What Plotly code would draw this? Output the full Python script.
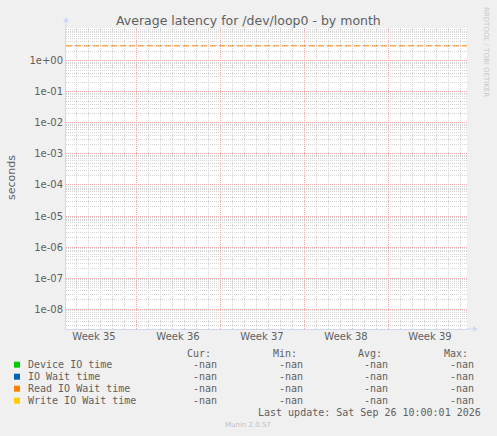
import plotly.graph_objects as go

# ---- data ----
title = "Average latency for /dev/loop0 - by month"
y_label = "seconds"
x_start = "2026-08-25 04:00"
x_end = "2026-09-27 14:00"
week_starts = ["2026-08-31", "2026-09-07", "2026-09-14", "2026-09-21"]
week_label_pos = ["2026-08-27 12:00", "2026-09-03 12:00", "2026-09-10 12:00",
                  "2026-09-17 12:00", "2026-09-24 12:00"]
week_labels = ["Week 35", "Week 36", "Week 37", "Week 38", "Week 39"]
y_tick_vals = [1e-8, 1e-7, 1e-6, 1e-5, 1e-4, 1e-3, 1e-2, 1e-1, 1e0]
y_tick_text = ["1e-08", "1e-07", "1e-06", "1e-05", "1e-04", "1e-03", "1e-02", "1e-01", "1e+00"]
y_range_log = [-8.634, 1.052]
warning_value = 3.0
series_names = ["Device IO time", "IO Wait time", "Read IO Wait time", "Write IO Wait time"]
series_colors = ["#00CC00", "#0066B3", "#FF8000", "#FFCC00"]
cur_vals = ["-nan", "-nan", "-nan", "-nan"]
min_vals = ["-nan", "-nan", "-nan", "-nan"]
avg_vals = ["-nan", "-nan", "-nan", "-nan"]
max_vals = ["-nan", "-nan", "-nan", "-nan"]
col_headers = ["Cur:", "Min:", "Avg:", "Max:"]
last_update = "Last update: Sat Sep 26 10:00:01 2026"
footer = "Munin 2.0.57"
watermark = "RRDTOOL / TOBI OETIKER"

# ---- layout geometry (pixels) ----
W, H = 497, 436
L, R, T, B = 66, 30, 28, 107
PW = W - L - R
PH = H - T - B

def px(x):
    return (x - L) / PW

def py(y):
    return (H - B - y) / PH

FONT = "DejaVu Sans"
MONO = "DejaVu Sans Mono"
TXT = "#606060"
AXIS = "#CFD6F8"
MINOR = "#D4D4D4"
MAJOR = "#F2A8A8"

fig = go.Figure()

# series (no data -> nan)
for name, col in zip(series_names, series_colors):
    fig.add_trace(go.Scatter(x=[x_start, x_end], y=[None, None], mode="lines",
                             line=dict(color=col, width=1), name=name,
                             xaxis="x2", showlegend=False, hoverinfo="skip"))

# warning rule
fig.add_trace(go.Scatter(x=[x_start, x_end], y=[warning_value, warning_value],
                         mode="lines", line=dict(color="#FF8000", width=1, dash="6px,3px"),
                         showlegend=False, hoverinfo="skip"))

fig.update_layout(
    width=W, height=H,
    margin=dict(l=L, r=R, t=T, b=B),
    paper_bgcolor="#F0F0F0", plot_bgcolor="#FFFFFF",
    font=dict(family=FONT, size=10, color=TXT),
    showlegend=False,
    xaxis=dict(
        type="date", range=[x_start, x_end],
        tickmode="array", tickvals=week_starts, showticklabels=False,
        showgrid=True, gridcolor=MAJOR, griddash="1px,1px", gridwidth=1,
        ticks="", showline=True, linecolor=AXIS, linewidth=1,
        zeroline=False,
        minor=dict(dtick=86400000, tick0="2026-08-24", showgrid=True,
                   gridcolor=MINOR, griddash="1px,1px", gridwidth=1),
    ),
    xaxis2=dict(
        type="date", range=[x_start, x_end], overlaying="x", side="bottom",
        anchor="y", tickmode="array", tickvals=week_label_pos, ticktext=week_labels,
        showgrid=False, ticks="", showline=False, zeroline=False,
        tickfont=dict(family=FONT, size=10, color=TXT),
    ),
    yaxis=dict(
        type="log", range=y_range_log,
        tickmode="array", tickvals=y_tick_vals, ticktext=y_tick_text,
        showgrid=True, gridcolor=MAJOR, griddash="1px,1px", gridwidth=1,
        ticks="", showline=True, linecolor=AXIS, linewidth=1, zeroline=False,
        tickfont=dict(family=FONT, size=10, color=TXT),
        minor=dict(dtick="D1", showgrid=True, gridcolor=MINOR,
                   griddash="1px,1px", gridwidth=1),
    ),
)

ann = []
# title
ann.append(dict(text=title, x=px(248), y=py(20), xref="paper", yref="paper",
                showarrow=False, font=dict(family=FONT, size=12.5, color=TXT),
                xanchor="center", yanchor="middle"))
# y label
ann.append(dict(text=y_label, x=px(11), y=py(178), xref="paper", yref="paper",
                showarrow=False, textangle=-90, font=dict(family=FONT, size=11, color=TXT),
                xanchor="center", yanchor="middle"))
# watermark
ann.append(dict(text=watermark, x=px(486), y=py(52), xref="paper", yref="paper",
                showarrow=False, textangle=90, font=dict(family=FONT, size=7, color="#C8C8C8"),
                xanchor="center", yanchor="middle"))
# legend headers
head_x = [213, 299, 384, 470]
val_x = [219, 305, 390, 476]
for hx, h in zip(head_x, col_headers):
    ann.append(dict(text=h, x=px(hx), y=py(353), xref="paper", yref="paper",
                    showarrow=False, xanchor="right", yanchor="middle",
                    font=dict(family=MONO, size=10, color=TXT)))
row_y = [364.7, 376.7, 388.7, 400.7]
shapes = []
for i, (name, col) in enumerate(zip(series_names, series_colors)):
    yy = row_y[i]
    shapes.append(dict(type="rect", xref="paper", yref="paper",
                       x0=px(14), x1=px(20), y0=py(yy + 3), y1=py(yy - 3),
                       fillcolor=col, line=dict(width=0)))
    ann.append(dict(text=name, x=px(26), y=py(yy), xref="paper", yref="paper",
                    showarrow=False, xanchor="left", yanchor="middle",
                    font=dict(family=MONO, size=10, color=TXT)))
    for vx, vals in zip(val_x, [cur_vals, min_vals, avg_vals, max_vals]):
        ann.append(dict(text=vals[i], x=px(vx), y=py(yy), xref="paper", yref="paper",
                        showarrow=False, xanchor="right", yanchor="middle",
                        font=dict(family=MONO, size=10, color=TXT)))
ann.append(dict(text=last_update, x=px(483), y=py(412.3), xref="paper", yref="paper",
                showarrow=False, xanchor="right", yanchor="middle",
                font=dict(family=MONO, size=10, color=TXT)))
ann.append(dict(text=footer, x=px(248), y=py(425), xref="paper", yref="paper",
                showarrow=False, xanchor="center", yanchor="middle",
                font=dict(family=FONT, size=7, color="#C0C0C0")))

# axis arrows
shapes.append(dict(type="line", xref="paper", yref="paper", x0=px(466), x1=px(473),
                   y0=0, y1=0, line=dict(color=AXIS, width=1)))
shapes.append(dict(type="path", xref="paper", yref="paper",
                   path=f"M {px(473)},{py(326)} L {px(478)},{py(329)} L {px(473)},{py(332)} Z",
                   fillcolor=AXIS, line=dict(width=0)))
shapes.append(dict(type="line", xref="paper", yref="paper", x0=0, x1=0,
                   y0=1, y1=py(22), line=dict(color=AXIS, width=1)))
shapes.append(dict(type="path", xref="paper", yref="paper",
                   path=f"M {px(63)},{py(22)} L {px(66)},{py(17)} L {px(69)},{py(22)} Z",
                   fillcolor=AXIS, line=dict(width=0)))

fig.update_layout(annotations=ann, shapes=shapes)
fig.write_html("out.html", config={"displayModeBar": False},
               post_script="document.body.style.margin='0';")
